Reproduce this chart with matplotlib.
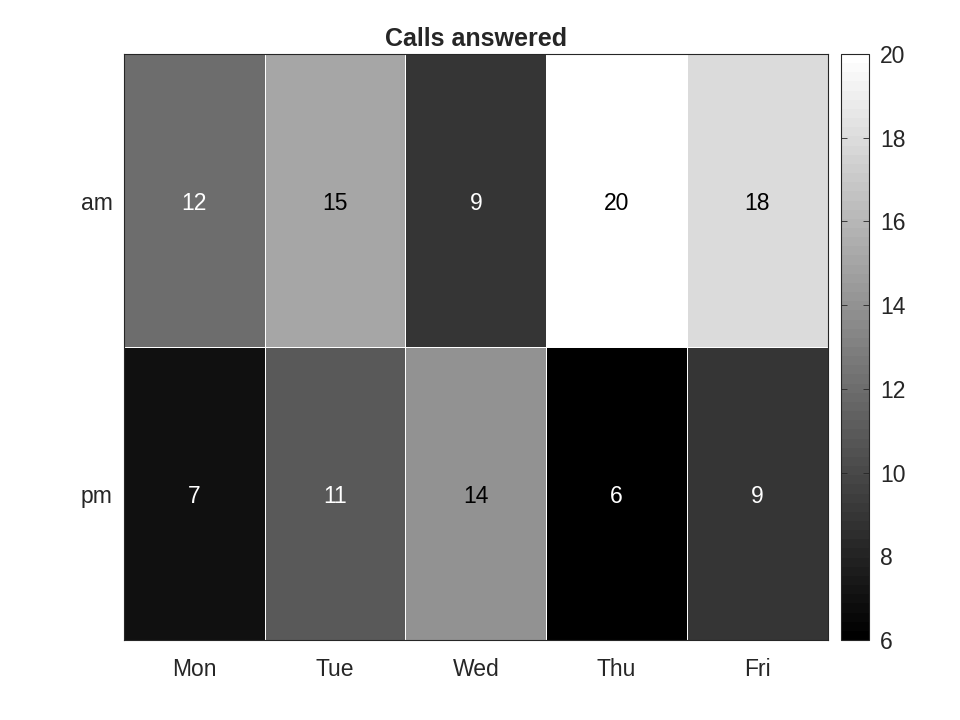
import numpy as np
import matplotlib
matplotlib.use("Agg")
import matplotlib.pyplot as plt

days = ["Mon", "Tue", "Wed", "Thu", "Fri"]
periods = ["am", "pm"]
am_calls = [12, 15, 9, 20, 18]
pm_calls = [7, 11, 14, 6, 9]
title = "Calls answered"
cbar_ticks = [6, 8, 10, 12, 14, 16, 18, 20]

plt.rcParams['font.family'] = ['Liberation Sans', 'DejaVu Sans']
data = np.array([am_calls, pm_calls], dtype=float)
cmap = plt.get_cmap('gray', 64)
vmin, vmax = data.min(), data.max()

fig = plt.figure(figsize=(9.6, 7.2), dpi=100)
ax = fig.add_axes([0.129, 0.1111, 0.7333, 0.8139])
cax = fig.add_axes([0.876, 0.1111, 0.0292, 0.8139])

mesh = ax.pcolormesh(np.arange(len(days) + 1), np.arange(len(periods) + 1), data,
                     cmap=cmap, vmin=vmin, vmax=vmax, edgecolor='white', linewidth=0.5)
ax.set_xlim(0, len(days))
ax.set_ylim(len(periods), 0)
ax.set_xticks(np.arange(len(days)) + 0.5)
ax.set_xticklabels(days)
ax.set_yticks(np.arange(len(periods)) + 0.5)
ax.set_yticklabels(periods)
ax.tick_params(length=0, labelsize=16.5, colors='#262626')
ax.tick_params(axis='x', pad=13)
ax.tick_params(axis='y', pad=8)
for s in ax.spines.values():
    s.set_color('#262626')
    s.set_linewidth(0.8)
ax.set_title(title, fontsize=18, fontweight='bold', color='#262626', pad=6)

norm = plt.Normalize(vmin, vmax)
for i in range(len(periods)):
    for j in range(len(days)):
        v = data[i, j]
        r, g, b, _ = cmap(norm(v))
        lum = 0.299 * r + 0.587 * g + 0.114 * b
        ax.text(j + 0.5, i + 0.5 + 0.01, f"{int(v)}", ha='center', va='center',
                fontsize=16.5, color='black' if lum > 0.5 else 'white')

cb = fig.colorbar(mesh, cax=cax, ticks=cbar_ticks)
cb.outline.set_edgecolor('#262626')
cb.outline.set_linewidth(0.8)
cax.tick_params(labelsize=16.5, colors='#262626', direction='in', length=4, width=0.6,
                left=True, right=True, pad=8)
cax.yaxis.set_tick_params(which='minor', length=0)
fig.savefig("out.png", dpi=100, facecolor='white')
